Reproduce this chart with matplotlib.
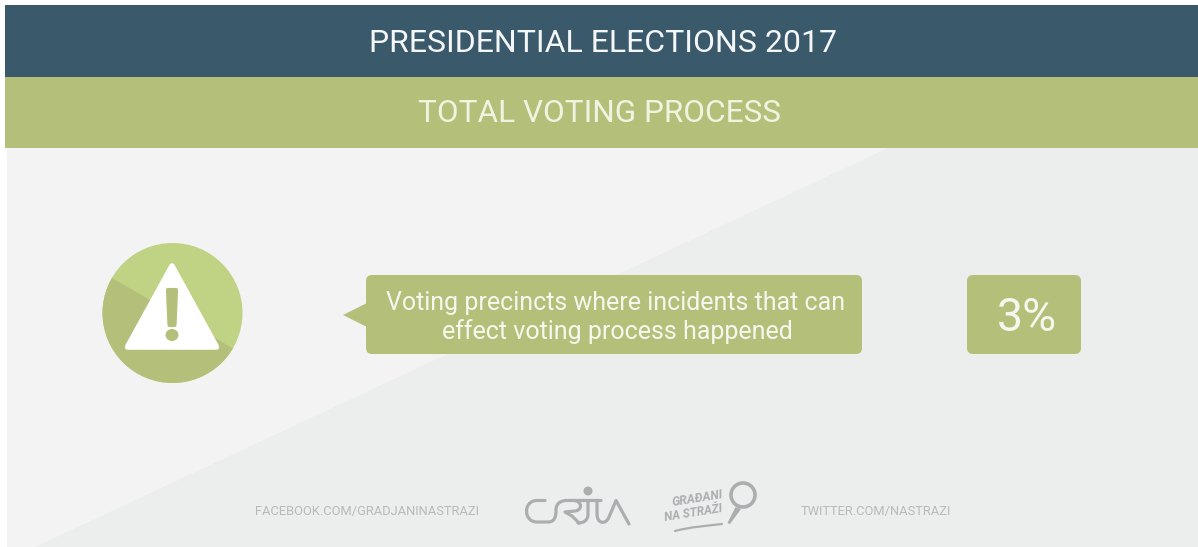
import matplotlib
matplotlib.use('Agg')
import matplotlib.pyplot as plt
from matplotlib.patches import Rectangle, Polygon, Circle, FancyBboxPatch, Ellipse, PathPatch
from matplotlib.path import Path

plt.rcParams['font.family'] = ['Roboto', 'DejaVu Sans']

title = 'PRESIDENTIAL ELECTIONS 2017'
subtitle = 'TOTAL VOTING PROCESS'
incident_label = ['Voting precincts where incidents that can', 'effect voting process happened']
incident_share = 3
facebook = 'FACEBOOK.COM/GRADJANINASTRAZI'
twitter = 'TWITTER.COM/NASTRAZI'

navy = '#3a5a6b'
olive = '#b4c07a'
light_green = '#c0d283'
logo_grey = '#abadaf'
foot_grey = '#b7b9ba'

fig = plt.figure(figsize=(11.98, 5.47), dpi=100, facecolor='white')
ax = fig.add_axes([0, 0, 1, 1])
ax.set_xlim(0, 1198)
ax.set_ylim(547, 0)
ax.axis('off')


def stroke(points, codes, width=2.3):
    ax.add_patch(PathPatch(Path(points, codes), fc='none', ec=logo_grey, lw=width, capstyle='round', joinstyle='round'))


M, L, C = Path.MOVETO, Path.LINETO, Path.CURVE4

# header bands
ax.add_patch(Rectangle((5, 5), 1193, 72, fc=navy, ec='none'))
ax.add_patch(Rectangle((5, 77), 1193, 71, fc=olive, ec='none'))
ax.text(603, 43, title, color='#f4f6f7', fontsize=23, ha='center', va='center')
ax.text(599, 113, subtitle, color='#f0f3e0', fontsize=22.7, ha='center', va='center')

# two tone background
ax.add_patch(Rectangle((7, 148), 1191, 399, fc='#f3f3f3', ec='none'))
ax.add_patch(Polygon([(888, 148), (1198, 148), (1198, 547), (35, 547)], fc='#eceeee', ec='none'))

# warning icon
disc = Circle((172.5, 313), 70, fc=light_green, ec='none')
ax.add_patch(disc)
shade = Polygon([(90, 265), (240, 352.5), (240, 400), (90, 400)], fc=olive, ec='none')
ax.add_patch(shade)
shade.set_clip_path(disc)
ax.add_patch(Polygon([(172, 266), (216.5, 347), (127.5, 347)], fc='white', ec='white', lw=4, joinstyle='round'))
ax.add_patch(Polygon([(168, 290), (176, 290), (174.5, 325), (169.5, 325)], fc=olive, ec=olive, lw=3, joinstyle='round'))
ax.add_patch(Ellipse((172, 335), 13, 12, fc=olive, ec='none'))

# speech bubble
ax.add_patch(FancyBboxPatch((370, 279), 488, 71, boxstyle='round,pad=4,rounding_size=6', fc=olive, ec='none'))
ax.add_patch(Polygon([(343, 315), (367, 303), (367, 327)], fc=olive, ec='none'))
ax.text(616, 303, incident_label[0], color='#f6f7ee', fontsize=18, ha='center', va='center')
ax.text(617, 332, incident_label[1], color='#f6f7ee', fontsize=18, ha='center', va='center')

# value box
ax.add_patch(FancyBboxPatch((971, 279), 106, 71, boxstyle='round,pad=4,rounding_size=6', fc=olive, ec='none'))
ax.text(1026.5, 318, f'{incident_share}%', color='#f6f7ee', fontsize=33.5, ha='center', va='center')

# footer links
ax.text(367, 511.5, facebook, color=foot_grey, fontsize=9.3, ha='center', va='center')
ax.text(876, 511.5, twitter, color=foot_grey, fontsize=9.3, ha='center', va='center')

# CRTA logo
stroke([(545, 500.5), (537, 500.5), (523, 500.5), (523, 522), (537, 522), (548, 522),
        (555, 522), (556, 516), (556, 510), (556, 504), (560, 500.5), (567, 500.5), (601, 500.5)],
       [M, L, C, C, C, L, C, C, C, C, C, C, L])
stroke([(574, 500.5), (582, 501), (583, 510), (575, 511), (565, 512), (572, 516), (579, 523)],
       [M, C, C, C, L, L, L])
stroke([(588, 501), (588, 514), (588, 520), (584, 523), (578, 523)], [M, L, C, C, C])
stroke([(597, 501), (597, 514), (597, 524), (606, 525), (609, 517), (616, 500.5), (629, 524)],
       [M, L, C, C, C, L, L])
ax.add_patch(Circle((588, 491), 4.5, fc=logo_grey, ec='none'))

# citizens on watch logo
ax.text(697, 499, 'GRAĐANI', color=logo_grey, fontsize=8.8, rotation=9, ha='center', va='center', fontweight='bold', fontstyle='italic')
ax.text(693, 513, 'NA STRAŽI', color=logo_grey, fontsize=8.6, rotation=9, ha='center', va='center', fontweight='bold', fontstyle='italic')
ax.add_patch(Circle((743, 495), 12, fc='none', ec=logo_grey, lw=2.6))
ax.add_patch(Polygon([(735.5, 507), (741, 509), (730, 524), (727.5, 523)], fc=logo_grey, ec='none'))
stroke([(675, 531), (690, 527), (705, 526), (722, 524)], [M, C, C, C], width=1.6)

fig.savefig('out.png', dpi=100)
